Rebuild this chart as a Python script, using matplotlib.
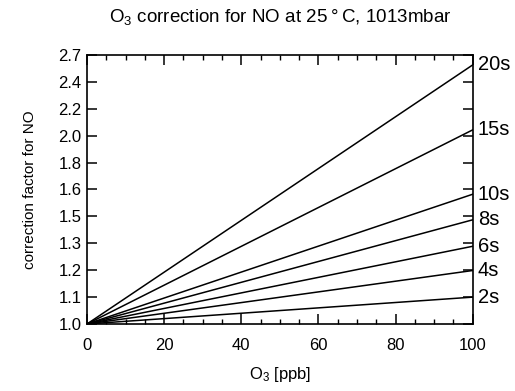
import numpy as np
import matplotlib
matplotlib.use("Agg")
import matplotlib.pyplot as plt
from matplotlib.ticker import NullLocator, MultipleLocator

plt.rcParams['font.family'] = ['Liberation Sans', 'DejaVu Sans']
plt.rcParams['mathtext.default'] = 'regular'

# Data
o3_ppb = [0, 100]
residence_s = [2, 4, 6, 8, 10, 15, 20]
factor_at_100ppb = [1.105, 1.22, 1.335, 1.473, 1.62, 2.058, 2.62]
ytick_labels = ["1.0", "1.1", "1.2", "1.3", "1.5", "1.6", "1.8", "2.0", "2.2", "2.4", "2.7"]
xticks = [0, 20, 40, 60, 80, 100]

fig = plt.figure(figsize=(5.15, 3.91), dpi=100)
ax = fig.add_axes([0.169, 0.1714, 0.749, 0.688])

for t, f in zip(residence_s, factor_at_100ppb):
    ax.plot(o3_ppb, [1.0, f], color='black', lw=1.1)
    ax.annotate(f"{t}s", xy=(100, f), xytext=(3.5, 0), textcoords='offset points',
                va='center', ha='left', fontsize=14.5, annotation_clip=False)

ax.set_yscale('log')
ytick_pos = np.exp(np.arange(len(ytick_labels)) * 0.1)
ax.set_ylim(1.0, np.e)
ax.set_yticks(ytick_pos)
ax.set_yticklabels(ytick_labels)
ax.yaxis.set_minor_locator(NullLocator())

ax.set_xlim(0, 100)
ax.set_xticks(xticks)
ax.xaxis.set_minor_locator(MultipleLocator(5))

ax.tick_params(which='major', direction='in', length=7, width=1.1, top=True, right=True,
               labelsize=12, pad=4)
ax.tick_params(axis='x', which='major', pad=10)
ax.tick_params(which='minor', direction='in', length=3.5, width=1.0, top=True, bottom=True)
for s in ax.spines.values():
    s.set_linewidth(1.2)

ax.set_xlabel("O$_3$ [ppb]", fontsize=12, labelpad=9)
ax.set_ylabel("correction factor for NO", fontsize=11, labelpad=15)
ax.set_title("O$_3$ correction for NO at 25\u2009\u00b0\u2009C, 1013mbar", fontsize=13.5, pad=24)

fig.savefig("out.png", dpi=100)
